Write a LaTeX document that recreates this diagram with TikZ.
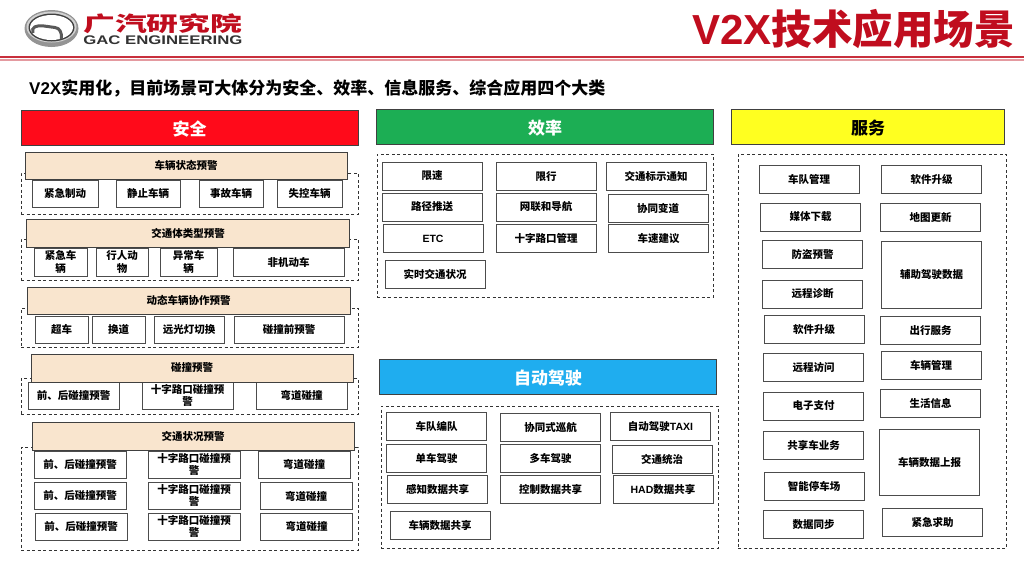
\documentclass[tikz,border=0pt]{standalone}
\usepackage{fontspec}
\setmainfont{Noto Sans CJK SC}
\newfontfamily\lat{Liberation Sans}
\definecolor{gacred}{HTML}{C00D1E}
\definecolor{ruledark}{HTML}{C8303C}
\definecolor{rulelight}{HTML}{E49AA0}
\definecolor{safered}{HTML}{FF0A1A}
\definecolor{effgreen}{HTML}{1CAE54}
\definecolor{servyellow}{HTML}{FFFF20}
\definecolor{autoblue}{HTML}{1FADEF}
\definecolor{beige}{HTML}{F9E5CE}
\tikzset{
    cell/.style 2 args={draw=black!70, line width=1pt, fill=white, inner sep=0pt, align=center,
        minimum width=#1pt, minimum height=#2pt, font=\fontsize{10.5}{12.5}\selectfont\bfseries},
    cellstd/.style={cell={100}{28}},
    bar/.style={draw=black!75, line width=1pt, inner sep=0pt, minimum width=#1pt, minimum height=35.5pt,
        text height=16.5pt, text depth=1.5pt, font=\fontsize{17}{20}\selectfont\bfseries},
    subhead/.style 2 args={draw=black!75, line width=1pt, fill=beige, inner sep=0pt,
        minimum width=#1pt, minimum height=#2pt, font=\fontsize{10.5}{12.5}\selectfont\bfseries},
    dashbox/.style 2 args={draw=black!80, line width=0.8pt, dash pattern=on 3pt off 2.5pt, inner sep=0pt,
        minimum width=#1pt, minimum height=#2pt},
}
\begin{document}
\begin{tikzpicture}[x=1pt, y=-1pt]
    \useasboundingbox (0, 0) rectangle (1024, 576);

    %%header
    \fill[ruledark] (0, 55.5) rectangle (1024, 58);
    \fill[rulelight] (0, 58.7) rectangle (1024, 60.7);
    \node[text=gacred, inner sep=0pt, anchor=east, font=\fontsize{40.5}{42}\selectfont\bfseries] (title) at (1015, 29){{\lat\fontsize{42}{42}\selectfont V2X}技术应用场景};
    \node[inner sep=0pt, anchor=west, font=\fontsize{17}{20}\selectfont\bfseries] (intro) at (29, 88){{\lat V2X}实用化，目前场景可大体分为安全、效率、信息服务、综合应用四个大类};

    %%logo
    \fill[black!42] (51.5, 28.5) ellipse (27 and 18.5);
    \fill[black!18] (51.5, 27) ellipse (25 and 15.5);
    \fill[black!75] (51.5, 27.5) ellipse (23 and 14);
    \fill[white] (51.5, 27.5) ellipse (21.5 and 12.5);
    \draw[black!65, line width=3pt] (33, 33) .. controls (31, 27) and (36, 25) .. (44, 26) -- (55, 27.5)
        .. controls (60, 28) and (62, 33) .. (61.5, 39);
    \node[text=gacred, inner sep=0pt, anchor=west, xscale=1.55, font=\fontsize{20.5}{22}\selectfont\bfseries] (logocn) at (83, 24){广汽研究院};
    \node[text=black!80, inner sep=0pt, anchor=west, xscale=1.34, font=\lat\fontsize{12.5}{13}\selectfont\bfseries] (logoen) at (83, 40.5){GAC ENGINEERING};

    %%the group bars
    \node[bar=337, fill=safered, text=white] (safe) at (189.5, 128){安全};
    \node[bar=337, fill=effgreen, text=white] (eff) at (545, 127){效率};
    \node[bar=273, fill=servyellow, text=black] (serv) at (868, 127){服务};
    \node[bar=337, fill=autoblue, text=white] (auto) at (548, 377){自动驾驶};

    %%dashed frames
    \node[dashbox={337}{41}] (safeA) at (189.5, 193.5){};
    \node[dashbox={337}{41}] (safeB) at (189.5, 259.5){};
    \node[dashbox={337}{39}] (safeC) at (189.5, 327.5){};
    \node[dashbox={337}{36}] (safeD) at (189.5, 396){};
    \node[dashbox={337}{103}] (safeE) at (189.5, 498.5){};
    \node[dashbox={336}{143}] (effbox) at (545, 225.5){};
    \node[dashbox={337}{142}] (autobox) at (549.5, 477){};
    \node[dashbox={268}{394}] (servbox) at (872, 351){};

    %%vehicle state
    \node[cell={66}{27}] (stopa) at (65, 193.5){紧急制动};
    \node[cell={64}{27}] (stopb) at (148, 193.5){静止车辆};
    \node[cell={64}{27}] (stopc) at (231, 193.5){事故车辆};
    \node[cell={65}{27}] (stopd) at (309.5, 193.5){失控车辆};
    \node[subhead={322}{27}] (heada) at (186, 165.5){车辆状态预警};

    %%road user type
    \node[cell={53}{28}] (usera) at (60.5, 262){紧急车\\辆};
    \node[cell={52}{28}] (userb) at (122, 262){行人动\\物};
    \node[cell={57}{28}] (userc) at (188.5, 262){异常车\\辆};
    \node[cell={111}{28}] (userd) at (288.5, 262){非机动车};
    \node[subhead={323}{28}] (headb) at (188, 233){交通体类型预警};

    %%dynamic cooperation
    \node[cell={53}{27}] (moveA) at (61.5, 329.5){超车};
    \node[cell={53}{27}] (moveB) at (118.5, 329.5){换道};
    \node[cell={70}{27}] (moveC) at (189, 329.5){远光灯切换};
    \node[cell={110}{27}] (moveD) at (289, 329.5){碰撞前预警};
    \node[subhead={323}{27}] (headc) at (188.5, 300.5){动态车辆协作预警};

    %%collision
    \node[cell={91}{27}] (hitA) at (73.5, 395.5){前、后碰撞预警};
    \node[cell={91}{27}] (hitB) at (187.5, 395.5){十字路口碰撞预\\警};
    \node[cell={91}{27}] (hitC) at (301.5, 395.5){弯道碰撞};
    \node[subhead={322}{28}] (headd) at (192, 368){碰撞预警};

    %%traffic condition
    \node[cell={92}{27}] (roadA) at (80, 464.5){前、后碰撞预警};
    \node[cell={92}{27}] (roadB) at (194, 464.5){十字路口碰撞预\\警};
    \node[cell={92}{27}] (roadC) at (304, 464.5){弯道碰撞};
    \node[cell={92}{27}] (roadD) at (80, 495.5){前、后碰撞预警};
    \node[cell={92}{27}] (roadE) at (194, 495.5){十字路口碰撞预\\警};
    \node[cell={92}{27}] (roadF) at (306, 496){弯道碰撞};
    \node[cell={92}{27}] (roadG) at (81, 526.5){前、后碰撞预警};
    \node[cell={92}{27}] (roadH) at (194, 526.5){十字路口碰撞预\\警};
    \node[cell={92}{27}] (roadI) at (306.5, 526.5){弯道碰撞};
    \node[subhead={322}{28}] (heade) at (193, 436){交通状况预警};

    %%efficiency
    \node[cellstd] (effA) at (432, 176){限速};
    \node[cellstd] (effB) at (546, 176.5){限行};
    \node[cellstd] (effC) at (656, 176){交通标示通知};
    \node[cellstd] (effD) at (432, 207){路径推送};
    \node[cellstd] (effE) at (546, 207){网联和导航};
    \node[cellstd] (effF) at (658, 208){协同变道};
    \node[cellstd] (effG) at (433, 238.5){\lat ETC};
    \node[cellstd] (effH) at (546, 238.5){十字路口管理};
    \node[cellstd] (effI) at (658.5, 238.5){车速建议};
    \node[cellstd] (effJ) at (435, 274.5){实时交通状况};

    %%automated driving
    \node[cellstd] (autoA) at (436.5, 426.5){车队编队};
    \node[cellstd] (autoB) at (550.5, 427.5){协同式巡航};
    \node[cellstd] (autoC) at (660.5, 426.5){自动驾驶{\lat TAXI}};
    \node[cellstd] (autoD) at (436.5, 458){单车驾驶};
    \node[cellstd] (autoE) at (550.5, 458){多车驾驶};
    \node[cellstd] (autoF) at (662, 459){交通统治};
    \node[cellstd] (autoG) at (437.5, 489.5){感知数据共享};
    \node[cellstd] (autoH) at (550.5, 489.5){控制数据共享};
    \node[cellstd] (autoI) at (663, 489.5){{\lat HAD}数据共享};
    \node[cellstd] (autoJ) at (440, 525.5){车辆数据共享};

    %%services, left column
    \node[cellstd] (servA) at (809, 179){车队管理};
    \node[cellstd] (servB) at (810.5, 217){媒体下载};
    \node[cellstd] (servC) at (812.5, 254){防盗预警};
    \node[cellstd] (servD) at (812.5, 294){远程诊断};
    \node[cellstd] (servE) at (814, 329){软件升级};
    \node[cellstd] (servF) at (813.5, 367.5){远程访问};
    \node[cellstd] (servG) at (813.5, 406){电子支付};
    \node[cellstd] (servH) at (813.5, 445){共享车业务};
    \node[cellstd] (servI) at (814, 486){智能停车场};
    \node[cellstd] (servJ) at (813.5, 524.5){数据同步};

    %%services, right column
    \node[cellstd] (servK) at (931.5, 179){软件升级};
    \node[cellstd] (servL) at (930.5, 217){地图更新};
    \node[cell={100}{67}] (servM) at (931.5, 274.5){辅助驾驶数据};
    \node[cellstd] (servN) at (930.5, 330.5){出行服务};
    \node[cellstd] (servO) at (931, 365.5){车辆管理};
    \node[cellstd] (servP) at (930.5, 403){生活信息};
    \node[cell={100}{66}] (servQ) at (929.5, 462){车辆数据上报};
    \node[cellstd] (servR) at (932.5, 522.5){紧急求助};
\end{tikzpicture}
\end{document}
